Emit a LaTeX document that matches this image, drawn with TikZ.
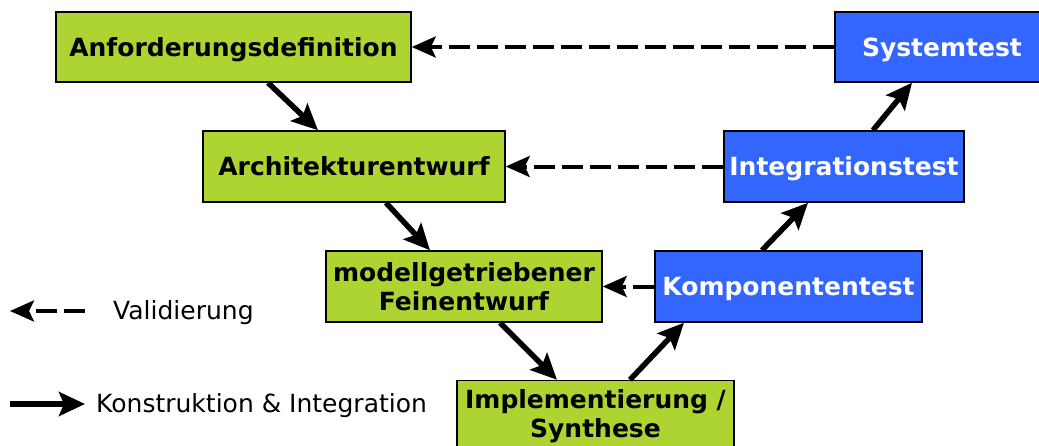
\documentclass[tikz,border=0pt]{standalone}
\usepackage{fontspec}
\setmainfont{DejaVu Sans}
\usetikzlibrary{arrows.meta}
\definecolor{phasegreen}{RGB}{173,212,48}
\definecolor{testblue}{RGB}{51,102,255}

\begin{document}
\begin{tikzpicture}[x=1pt,y=-1pt,
  phase/.style={draw=black, line width=1.5pt, fill=phasegreen, inner sep=0pt,
    align=center, font=\fontsize{25}{29}\selectfont\bfseries},
  oneline/.style={text height=20pt, text depth=2pt},
  test/.style={phase, oneline, fill=testblue, text=white},
  build/.style={line width=5.5pt, -{Stealth[length=26pt,width=24pt,inset=5pt]}},
  check/.style={line width=4pt, dash pattern=on 21pt off 7pt,
    -{Stealth[length=24pt,width=21pt,inset=5pt]}}]

\useasboundingbox (0,0) rectangle (1039,445);

% left side of the V
\node[phase, oneline, minimum width=355pt, minimum height=70pt] (v1) at (233.5,47) {Anforderungsdefinition};
\node[phase, oneline, minimum width=302pt, minimum height=71pt] (v2) at (354,166.5) {Architekturentwurf};
\node[phase, minimum width=276pt, minimum height=71pt] (v3) at (464,286.5) {modellgetriebener\\Feinentwurf};
\node[phase, minimum width=277pt, minimum height=71pt] (v4) at (595.5,416) {Implementierung /\\Synthese};

% right side of the V
\node[test, minimum width=267pt, minimum height=71pt] (v5) at (788.5,286.5) {Komponententest};
\node[test, minimum width=240pt, minimum height=71pt] (v6) at (844,166.5) {Integrationstest};
\node[test, minimum width=214pt, minimum height=70pt] (v7) at (942,47) {Systemtest};

\draw[build] ([xshift=34.5pt]v1.south) -- ([xshift=-36pt]v2.north);
\draw[build] ([xshift=32pt]v2.south) -- ([xshift=-34pt]v3.north);
\draw[build] ([xshift=36pt]v3.south) -- ([xshift=-38.5pt]v4.north);
\draw[build] ([xshift=34.5pt]v4.north) -- ([xshift=-104.5pt]v5.south);
\draw[build] ([xshift=-26.5pt]v5.north) -- ([xshift=-36pt]v6.south);
\draw[build] ([xshift=29pt]v6.north) -- ([xshift=-30pt]v7.south);

\draw[check] (v7.west) -- (v1.east);
\draw[check] (v6.west) -- (v2.east);
\draw[check] (v5.west) -- (v3.east);

% legend
\coordinate (l1) at (85,311);
\coordinate (l2) at (10,311);
\coordinate (l3) at (10,404);
\coordinate (l4) at (85,404);
\draw[check] (l1) -- (l2);
\draw[build] (l3) -- (l4);
\node[right, inner sep=0pt, font=\fontsize{25}{28}\selectfont] (t1) at (113,313) {Validierung};
\node[right, inner sep=0pt, font=\fontsize{25}{28}\selectfont] (t2) at (96,406) {Konstruktion \& Integration};

\end{tikzpicture}
\end{document}
